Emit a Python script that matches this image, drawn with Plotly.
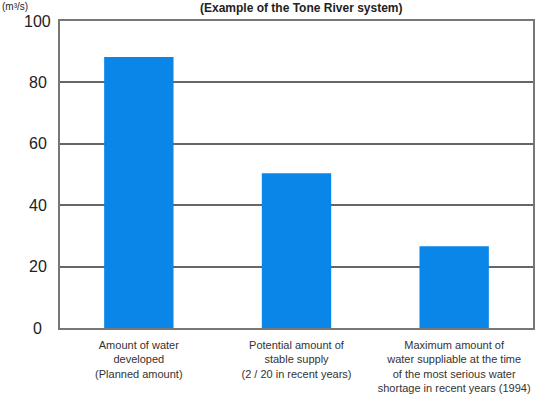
import plotly.graph_objects as go

categories = [
    "Amount of water<br>developed<br>(Planned amount)",
    "Potential amount of<br>stable supply<br>(2 / 20 in recent years)",
    "Maximum amount of<br>water suppliable at the time<br>of the most serious water<br>shortage in recent years (1994)",
]
values = [88.3, 50.4, 26.6]
tick_vals = [0, 20, 40, 60, 80, 100]
unit_label = "(m³/s)"
title_label = "(Example of the Tone River system)"

fig = go.Figure()
fig.add_trace(go.Bar(
    x=[0, 1, 2], y=values, width=0.44,
    marker=dict(color="#0a86e8", line=dict(width=0)),
))

annotations = [
    dict(xref="paper", yref="y", x=-0.047, y=v, text=str(v), showarrow=False,
         xanchor="center", yanchor="middle",
         font=dict(family="Liberation Sans, Arial, sans-serif", size=16, color="#222"))
    for v in tick_vals
]
annotations.append(dict(xref="paper", yref="paper", x=-0.125, y=1.0, yshift=21, text=unit_label,
                        showarrow=False, xanchor="left", yanchor="top", borderpad=0,
                        font=dict(family="Liberation Sans, Arial", size=10, color="#222")))
annotations.append(dict(xref="paper", yref="paper", x=0.51, y=1.0, yshift=21, text="<b>" + title_label + "</b>",
                        showarrow=False, xanchor="center", yanchor="top", borderpad=0,
                        font=dict(family="Liberation Sans, Arial", size=12, color="#222")))

fig.update_layout(
    width=557, height=398,
    margin=dict(l=60, r=24, t=21, b=70, autoexpand=False),
    paper_bgcolor="white", plot_bgcolor="white",
    showlegend=False, bargap=0.56,
    annotations=annotations,
    xaxis=dict(
        range=[-0.5, 2.5], tickvals=[0, 1, 2], ticktext=categories,
        showgrid=False, zeroline=False, ticks="", ticklabelstandoff=6,
        showline=True, mirror=True, linecolor="#777", linewidth=1.5,
        tickfont=dict(family="Liberation Sans, Arial, sans-serif", size=11, color="#333"),
        tickangle=0, automargin=False,
    ),
    yaxis=dict(
        range=[0, 100], tickvals=tick_vals, showticklabels=False,
        showgrid=True, gridcolor="#666", gridwidth=1.5, zeroline=False, ticks="",
        showline=True, mirror=True, linecolor="#777", linewidth=1.5, automargin=False,
    ),
)

fig.write_html("out.html")
